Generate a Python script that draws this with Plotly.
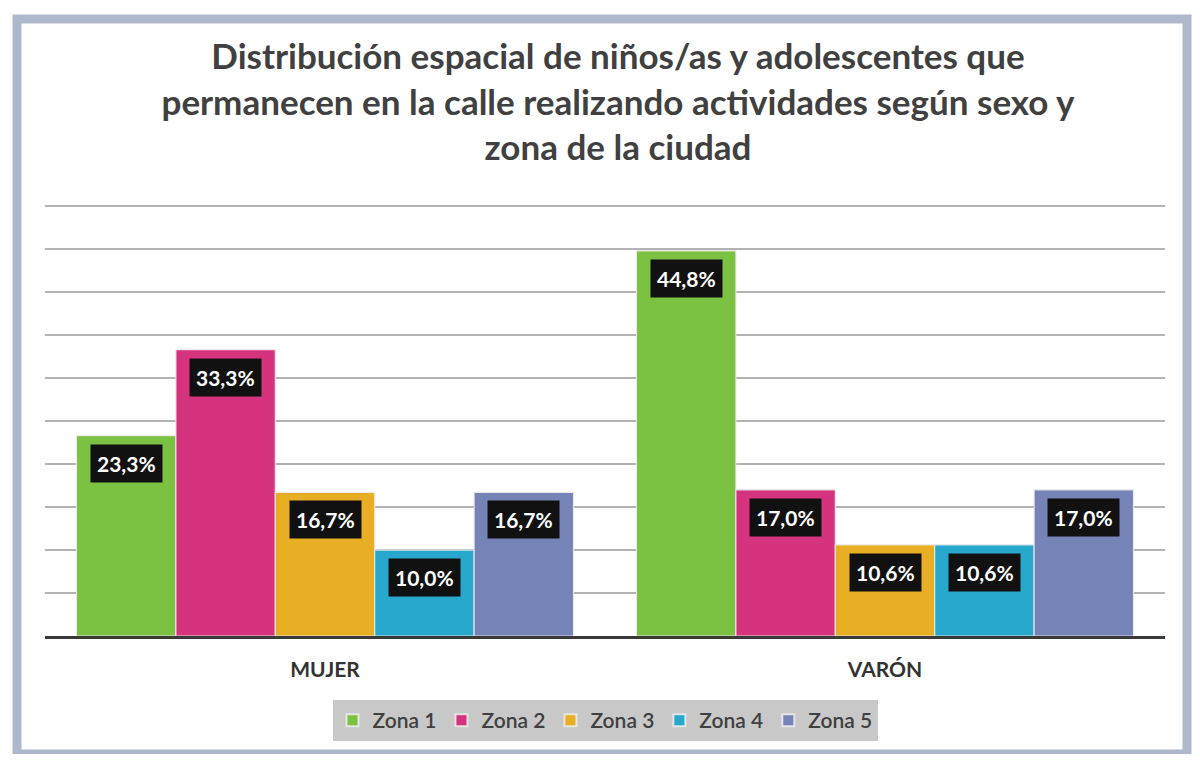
import plotly.graph_objects as go

categories = ["MUJER", "VARÓN"]
series_names = ["Zona 1", "Zona 2", "Zona 3", "Zona 4", "Zona 5"]
zona1 = [23.3, 44.8]
zona2 = [33.3, 17.0]
zona3 = [16.7, 10.6]
zona4 = [10.0, 10.6]
zona5 = [16.7, 17.0]
series_values = [zona1, zona2, zona3, zona4, zona5]
colors = ["#7cc242", "#d6337f", "#e8ae24", "#27a8cc", "#7683b7"]

title_text = ("Distribución espacial de niños/as y adolescentes que<br>"
              "permanecen en la calle realizando actividades según sexo y<br>"
              "zona de la ciudad")

# page body has an 8px margin; figure sized to fit the 1200x762 window
OFF = 8
W, H = 1200 - 2 * OFF, 762 - 2 * OFF
ML, MR, MB = 45 - OFF, W - (1165 - OFF), H - (636 - OFF)
YMAX = 50.25
PH = round(YMAX * 8.6)
MT = H - MB - PH
PW = W - ML - MR
FONT = "Lato"
bargap = 0.1125

fig = go.Figure()
for name, vals, col in zip(series_names, series_values, colors):
    fig.add_trace(go.Bar(
        name=name, x=categories, y=vals,
        marker=dict(color=col, line=dict(color="rgba(235,235,235,0.9)", width=1.2)),
        hoverinfo="skip",
    ))

n = len(series_names)
bw = (1 - bargap) / n
annotations = []
for i, vals in enumerate(series_values):
    for j, v in enumerate(vals):
        annotations.append(dict(
            x=j + (i - (n - 1) / 2) * bw, y=v, xref="x", yref="y",
            yanchor="top", yshift=-8, showarrow=False,
            text="<b>" + f"{v:.1f}".replace(".", ",") + "%</b>",
            font=dict(family=FONT, size=21, color="white"),
            bgcolor="#111111", borderpad=6,
        ))


def px_x(p):  # page pixel -> paper x
    return (p - OFF - ML) / PW


def px_y(p):  # page pixel -> paper y
    return (H - MB - (p - OFF)) / PH


fig.update_layout(
    width=W, height=H,
    margin=dict(l=ML, r=MR, t=MT, b=MB),
    paper_bgcolor="white", plot_bgcolor="white",
    barmode="group", bargap=bargap, bargroupgap=0,
    title=dict(text=title_text, x=(618 - OFF) / W, xanchor="center",
               y=1 - (69 - OFF) / H, yanchor="top", yref="container",
               font=dict(family=FONT, size=35, color="#404040", weight="bold")),
    xaxis=dict(showline=True, linecolor="#3a3a3a", linewidth=3,
               ticks="", ticklabelstandoff=13,
               tickfont=dict(family=FONT, size=21, color="#333333", weight="bold")),
    yaxis=dict(range=[0, YMAX], dtick=5, showgrid=True, gridcolor="#b3b3b3",
               gridwidth=2, showticklabels=False, zeroline=False),
    legend=dict(orientation="h", x=0.5, xanchor="center",
                y=px_y(700), yanchor="top", bgcolor="#c8c8c8",
                font=dict(family=FONT, size=21, color="#404040", weight=600),
                itemsizing="constant"),
    showlegend=True,
    annotations=annotations,
    shapes=[dict(type="rect", xref="paper", yref="paper",
                 x0=px_x(17), x1=px_x(1187), y0=px_y(754), y1=px_y(19),
                 line=dict(color="#adb8cc", width=9), layer="below")],
)

fig.write_html("out.html")
